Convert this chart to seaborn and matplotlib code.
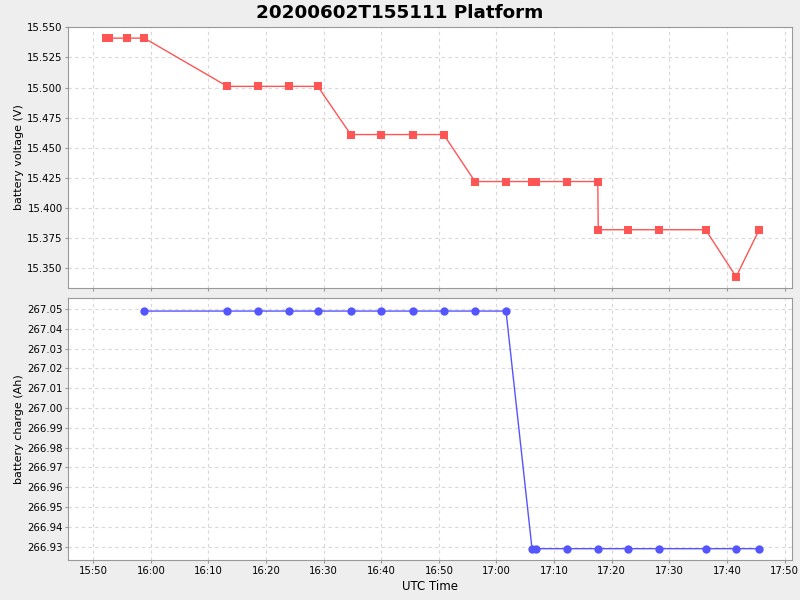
import pandas as pd
import seaborn as sns
import matplotlib
matplotlib.use("Agg")
import matplotlib.pyplot as plt
import matplotlib.dates as mdates

# battery voltage samples
volt_times = ["15:52:10", "15:52:40", "15:55:54", "15:58:51", "16:13:16", "16:18:36",
              "16:23:59", "16:28:58", "16:34:42", "16:39:57", "16:45:27", "16:50:50",
              "16:56:16", "17:01:39", "17:06:10", "17:06:52", "17:12:18", "17:17:35",
              "17:17:40", "17:22:53", "17:28:16", "17:36:18", "17:41:36", "17:45:36"]
voltage = [15.541, 15.541, 15.541, 15.541, 15.501, 15.501,
           15.501, 15.501, 15.461, 15.461, 15.461, 15.461,
           15.422, 15.422, 15.422, 15.422, 15.422, 15.422,
           15.382, 15.382, 15.382, 15.382, 15.343, 15.382]

# battery charge samples
charge_times = ["15:58:51", "16:13:16", "16:18:36", "16:23:59", "16:28:58", "16:34:42",
                "16:39:57", "16:45:27", "16:50:50", "16:56:16", "17:01:39", "17:06:10",
                "17:06:52", "17:12:18", "17:17:40", "17:22:53", "17:28:16", "17:36:18",
                "17:41:36", "17:45:36"]
charge = [267.049, 267.049, 267.049, 267.049, 267.049, 267.049,
          267.049, 267.049, 267.049, 267.049, 267.049, 266.929,
          266.929, 266.929, 266.929, 266.929, 266.929, 266.929,
          266.929, 266.929]

day = "2020-06-02 "
volt_df = pd.DataFrame({"time": pd.to_datetime([day + t for t in volt_times]), "voltage": voltage})
charge_df = pd.DataFrame({"time": pd.to_datetime([day + t for t in charge_times]), "charge": charge})

sns.set_style("white")
plt.rcParams["font.family"] = ["DejaVu Sans"]
plt.rcParams["text.color"] = "black"
plt.rcParams["axes.labelcolor"] = "black"
plt.rcParams["xtick.color"] = "black"
plt.rcParams["ytick.color"] = "black"

fig = plt.figure(figsize=(8, 6), dpi=100, facecolor="#eeeeee")
ax1 = fig.add_axes([0.0854, 0.5205, 0.9046, 0.435])
ax2 = fig.add_axes([0.0854, 0.0667, 0.9046, 0.436], sharex=ax1)

sns.lineplot(data=volt_df, x="time", y="voltage", ax=ax1, color="#ff5555",
             marker="s", markersize=6, markeredgewidth=0, linewidth=1, sort=False)
sns.lineplot(data=charge_df, x="time", y="charge", ax=ax2, color="#5555ff",
             marker="o", markersize=6, markeredgewidth=0, linewidth=1, sort=False)

ax1.set_ylim(15.3339, 15.5505)
ax1.set_yticks([15.35, 15.375, 15.4, 15.425, 15.45, 15.475, 15.5, 15.525, 15.55])
ax1.yaxis.set_major_formatter(plt.FormatStrFormatter("%.3f"))
ax2.set_ylim(266.9233, 267.0554)
ax2.set_yticks([266.93 + 0.01 * i for i in range(13)])
ax2.yaxis.set_major_formatter(plt.FormatStrFormatter("%.2f"))

ax2.set_xlim(pd.Timestamp(day + "15:45:40"), pd.Timestamp(day + "17:51:18"))
ax2.xaxis.set_major_locator(mdates.MinuteLocator(byminute=range(0, 60, 10)))
ax2.xaxis.set_major_formatter(mdates.DateFormatter("%H:%M"))

for ax in (ax1, ax2):
    ax.set_facecolor("white")
    ax.grid(True, color="#d8d8d8", linestyle=(0, (3, 3)), linewidth=0.8)
    for s in ax.spines.values():
        s.set_color("#999999")
    ax.tick_params(labelsize=7.3, length=2, pad=2, color="#999999", left=True, bottom=True)
    ax.set_xlabel("")

ax1.tick_params(labelbottom=False)
ax1.set_ylabel("battery voltage (V)", fontsize=8, labelpad=2)
ax2.set_ylabel("battery charge (Ah)", fontsize=8, labelpad=2)
ax2.set_xlabel("UTC Time", fontsize=8.5, labelpad=3)
fig.suptitle("20200602T155111 Platform", fontsize=13.2, fontweight="bold", y=0.994)

fig.savefig("out.png", dpi=100, facecolor=fig.get_facecolor())
